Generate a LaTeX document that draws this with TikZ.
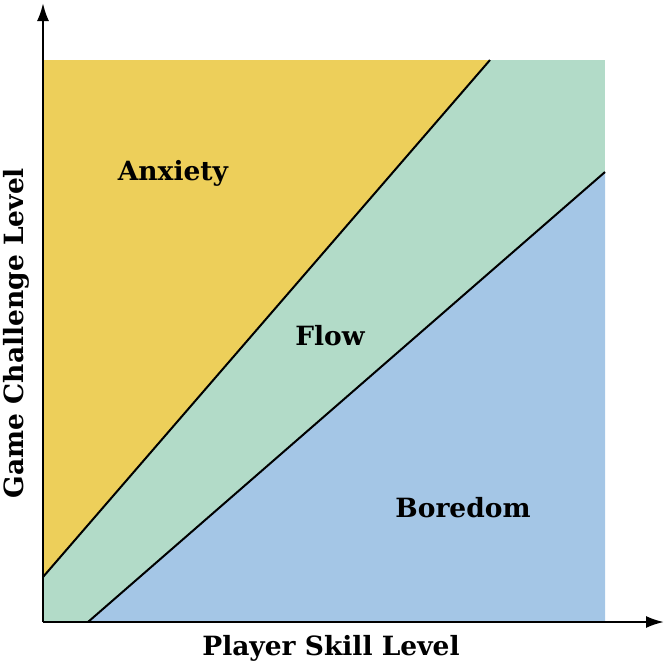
\documentclass[tikz,border=0pt]{standalone}
\usepackage{fontspec}
\setmainfont{DejaVu Serif}
\usetikzlibrary{arrows.meta}
\begin{document}
\begin{tikzpicture}[x=1pt,y=-1pt,
  lbl/.style={font=\bfseries\fontsize{26.5}{30}\selectfont,inner sep=0pt},
  bnd/.style={draw=black,line width=2pt}]
\useasboundingbox (0,0) rectangle (666,670);
\definecolor{cA}{HTML}{EDCF5A}
\definecolor{cF}{HTML}{B2DBC8}
\definecolor{cB}{HTML}{A4C6E6}
\coordinate (o) at (43,622);
\coordinate (u1) at (43,577);
\coordinate (u2) at (490,60);
\coordinate (l1) at (88,622);
\coordinate (l2) at (605,172);
\fill[cF] (43,60) rectangle (605,622);
\fill[cA] (u1) -- (43,60) -- (u2) -- cycle;
\fill[cB] (l1) -- (l2) -- (605,622) -- cycle;
\draw[bnd] (u1) -- (u2);
\draw[bnd] (l1) -- (l2);
\coordinate (yt) at (43,3);
\coordinate (xt) at (664,622);
\draw[line width=2.2pt,-{Latex[length=18pt,width=12pt]}] (o) -- (yt);
\draw[line width=2.2pt,-{Latex[length=18pt,width=12pt]}] (o) -- (xt);
\node[lbl] (a) at (173,173) {Anxiety};
\node[lbl] (f) at (330,336) {Flow};
\node[lbl] (b) at (463,508) {Boredom};
\node[lbl] (xl) at (331,648) {Player Skill Level};
\node[lbl,rotate=90] (yl) at (16,333) {Game Challenge Level};
\end{tikzpicture}
\end{document}
